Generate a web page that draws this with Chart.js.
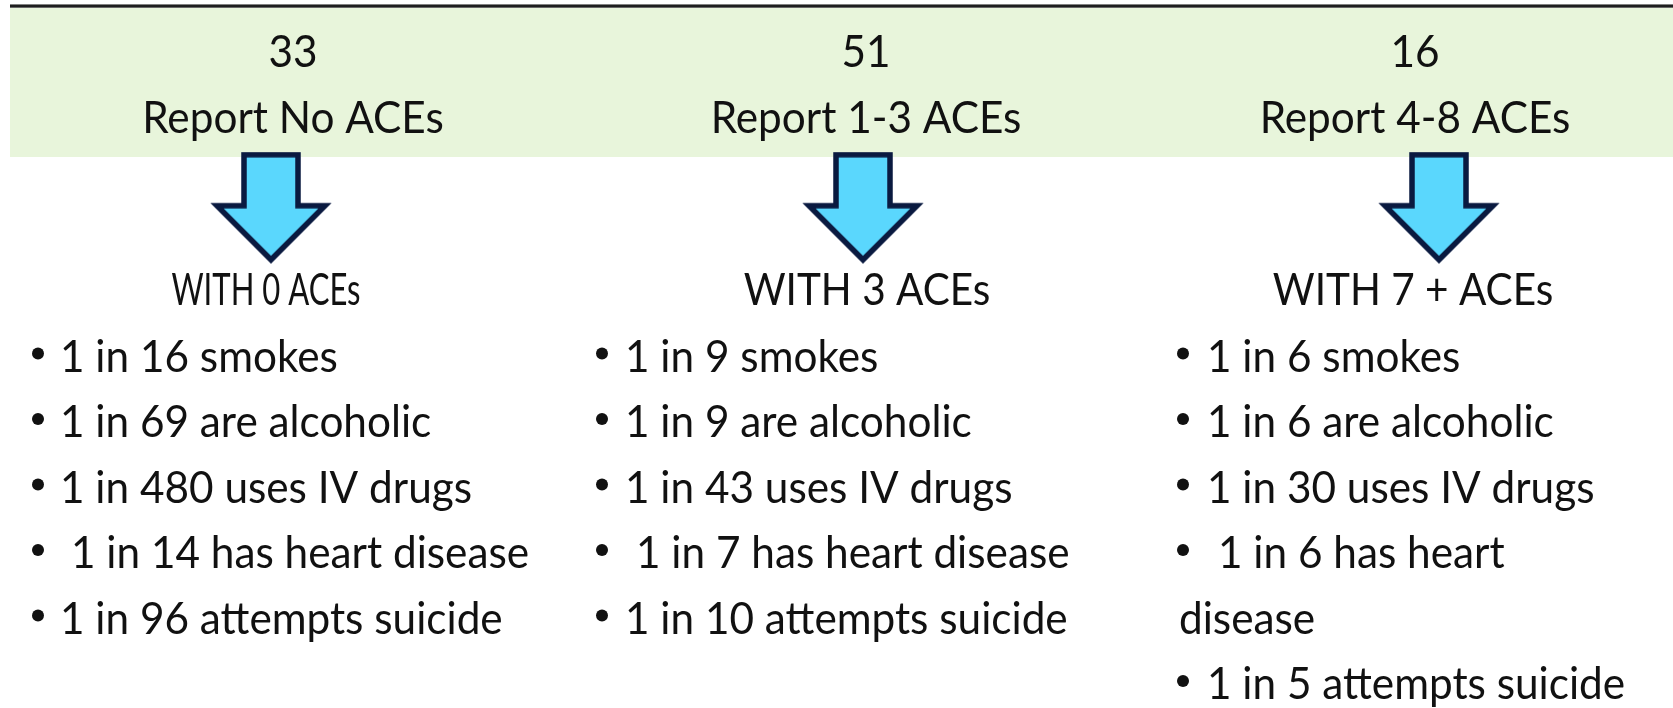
<!DOCTYPE html>
<html lang="en">
<head>
<meta charset="UTF-8" />
<title>ACEs</title>
<script src="https://cdn.jsdelivr.net/npm/chart.js"></script>
<style>
  html, body { margin: 0; padding: 0; background: #fff; overflow: hidden; }
  canvas { display: block; }
</style>
</head>
<body>
<canvas id="quadro" width="1673" height="708"></canvas>

<script>
// data
const respondents = [33, 51, 16]
const groups = ["Report No ACEs", "Report 1-3 ACEs", "Report 4-8 ACEs"]
const aceLevels = ["WITH 0 ACEs", "WITH 3 ACEs", "WITH 7 + ACEs"]
const smokes = [16, 9, 6]
const alcoholic = [69, 9, 6]
const ivDrugs = [480, 43, 30]
const heartDisease = [14, 7, 6]
const suicide = [96, 10, 5]

// layout (pixel units of the hidden scales)
const colCenter = [293, 866, 1415]
const withCenter = [266, 867, 1413]
const withSquash = [0.69, 0.9, 0.9]
const arrowX = [271, 863, 1439]
const bulletX = [38, 602, 1183]
const textX = [60, 625, 1207]
const colRight = [590, 1150, 1632]
const ARROW_Y = 209.7
const FONT = '45px Lato'
const SX = 0.94 // narrow the font a bit

function statLines(i) {
  return [
    { t: "1 in " + smokes[i] + " smokes" },
    { t: "1 in " + alcoholic[i] + " are alcoholic" },
    { t: "1 in " + ivDrugs[i] + " uses IV drugs" },
    { t: "1 in " + heartDisease[i] + " has heart disease", indent: 11 },
    { t: "1 in " + suicide[i] + " attempts suicide" },
  ]
}

// arrow picture used as point style
function makeArrow() {
  const c = document.createElement('canvas')
  c.width = 130
  c.height = 116
  const g = c.getContext('2d')
  const cx = 65, top = 3, base = 54, tip = 108, sw = 27, hw = 54
  g.beginPath()
  g.moveTo(cx - sw, top)
  g.lineTo(cx + sw, top)
  g.lineTo(cx + sw, base)
  g.lineTo(cx + hw, base)
  g.lineTo(cx, tip)
  g.lineTo(cx - hw, base)
  g.lineTo(cx - sw, base)
  g.closePath()
  g.fillStyle = '#5ad7fd'
  g.fill()
  g.lineWidth = 5.5
  g.lineJoin = 'miter'
  g.strokeStyle = '#0a1a40'
  g.stroke()
  return c
}

function drawText(ctx, str, x, y, align, sx) {
  ctx.save()
  ctx.translate(x, y)
  ctx.scale(sx || SX, 1)
  ctx.textAlign = align
  ctx.fillText(str, 0, 0)
  ctx.restore()
}

function width(ctx, str) {
  return ctx.measureText(str).width * SX
}

const fundo = {
  id: 'fundo',
  beforeDatasetsDraw(chart) {
    const ctx = chart.ctx
    const x = chart.scales.x, y = chart.scales.y
    const x0 = x.getPixelForValue(10), x1 = x.getPixelForValue(1673)
    // top rule
    ctx.fillStyle = '#9a9a9a'
    ctx.fillRect(x0, y.getPixelForValue(4), x1 - x0, 4)
    ctx.fillStyle = '#1e1e1e'
    ctx.fillRect(x0, y.getPixelForValue(4.8), x1 - x0, 2.6)
    // green band
    ctx.fillStyle = '#e8f5db'
    ctx.fillRect(x0, y.getPixelForValue(8), x1 - x0, y.getPixelForValue(157) - y.getPixelForValue(8))
  }
}

const textos = {
  id: 'textos',
  afterDatasetsDraw(chart) {
    const ctx = chart.ctx
    const x = chart.scales.x, y = chart.scales.y
    ctx.save()
    ctx.font = FONT
    ctx.fillStyle = '#111'
    ctx.textBaseline = 'alphabetic'

    for (let i = 0; i < groups.length; i++) {
      drawText(ctx, String(respondents[i]), x.getPixelForValue(colCenter[i]), y.getPixelForValue(67), 'center')
      drawText(ctx, groups[i], x.getPixelForValue(colCenter[i]), y.getPixelForValue(133), 'center')
      drawText(ctx, aceLevels[i], x.getPixelForValue(withCenter[i]), y.getPixelForValue(305), 'center', withSquash[i])

      const lines = statLines(i)
      let row = 0
      for (let k = 0; k < lines.length; k++) {
        const base = 371.5 + row * 65.5
        // bullet
        ctx.beginPath()
        ctx.arc(x.getPixelForValue(bulletX[i]), y.getPixelForValue(base - 18), 6, 0, Math.PI * 2)
        ctx.fill()

        // wrap words when the line runs past the column edge
        const words = lines[k].t.split(' ')
        let cur = ''
        let startX = textX[i] + (lines[k].indent || 0)
        for (let w = 0; w < words.length; w++) {
          const test = cur ? cur + ' ' + words[w] : words[w]
          if (cur && x.getPixelForValue(startX) + width(ctx, test) > x.getPixelForValue(colRight[i])) {
            drawText(ctx, cur, x.getPixelForValue(startX), y.getPixelForValue(371.5 + row * 65.5), 'left')
            row++
            cur = words[w]
            startX = bulletX[i] - 4
          } else {
            cur = test
          }
        }
        drawText(ctx, cur, x.getPixelForValue(startX), y.getPixelForValue(371.5 + row * 65.5), 'left')
        row++
      }
    }
    ctx.restore()
  }
}

document.fonts.load(FONT).then(function () {
  const arrow = makeArrow()
  new Chart(document.getElementById('quadro'), {
    type: 'scatter',
    data: {
      datasets: [{
        data: arrowX.map(function (v) { return { x: v, y: ARROW_Y } }),
        pointStyle: arrow,
        pointRadius: 10,
        clip: false,
      }],
    },
    options: {
      responsive: false,
      animation: false,
      devicePixelRatio: 1,
      events: [],
      layout: { padding: 0, autoPadding: false },
      scales: {
        x: { type: 'linear', min: 0, max: 1673, display: false },
        y: { type: 'linear', min: 0, max: 708, reverse: true, display: false },
      },
      plugins: { legend: { display: false }, tooltip: { enabled: false } },
    },
    plugins: [fundo, textos],
  })
})
</script>
</body>
</html>
